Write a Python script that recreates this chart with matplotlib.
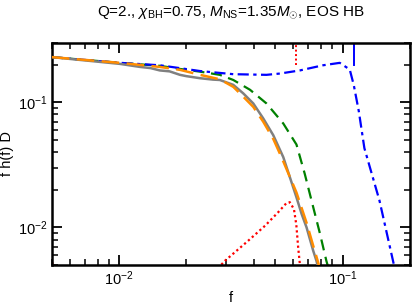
import numpy as np
import matplotlib
matplotlib.use("Agg")
import matplotlib.pyplot as plt

plt.rcParams['font.family'] = ['Liberation Sans', 'DejaVu Sans']
plt.rcParams['mathtext.fontset'] = 'custom'
plt.rcParams['mathtext.rm'] = 'Liberation Sans'
plt.rcParams['mathtext.it'] = 'Liberation Sans:italic'
plt.rcParams['mathtext.bf'] = 'Liberation Sans:bold'

# numerical waveform (gray, with small wiggles)
f_num = [0.005, 0.0101, 0.0124, 0.0138, 0.0152, 0.0168, 0.0187, 0.0200, 0.0230,
         0.0263, 0.0282, 0.0324, 0.0359, 0.0398, 0.0441, 0.0489, 0.0542, 0.0621,
         0.0655, 0.0689, 0.0738, 0.0763, 0.0790]
h_num = [0.23, 0.203, 0.192, 0.188, 0.180, 0.177, 0.166, 0.162, 0.156,
         0.152, 0.151, 0.138, 0.118, 0.098, 0.0744, 0.0546, 0.0365, 0.0174,
         0.0128, 0.0100, 0.0065, 0.0054, 0.0042]

# hybrid model (orange dashed)
f_mod = [0.005, 0.0101, 0.0152, 0.0187, 0.0230, 0.0282, 0.0324, 0.0359, 0.0398,
         0.0441, 0.0489, 0.0532, 0.0621, 0.0690, 0.0740, 0.0775, 0.080]
h_mod = [0.23, 0.207, 0.192, 0.182, 0.166, 0.153, 0.133, 0.111, 0.092,
         0.070, 0.051, 0.0365, 0.019, 0.0108, 0.007, 0.0053, 0.0043]

# green dashed
f_grn = [0.005, 0.0101, 0.0152, 0.0187, 0.0230, 0.0282, 0.0324, 0.0385, 0.0456,
         0.0542, 0.0621, 0.0676, 0.0738, 0.0790, 0.0845, 0.088]
h_grn = [0.23, 0.207, 0.196, 0.185, 0.176, 0.166, 0.151, 0.126, 0.098,
         0.0678, 0.046, 0.0269, 0.0145, 0.0090, 0.0054, 0.0042]

# blue dash-dot
f_blu = [0.005, 0.0101, 0.0152, 0.0230, 0.0324, 0.0456, 0.0524, 0.0643, 0.0817,
         0.0970, 0.1075, 0.112, 0.118, 0.125, 0.146, 0.1695, 0.18]
h_blu = [0.23, 0.207, 0.198, 0.178, 0.168, 0.166, 0.170, 0.180, 0.198,
         0.207, 0.183, 0.138, 0.085, 0.043, 0.0164, 0.005, 0.0035]

# red dotted
f_red = [0.005, 0.0053, 0.020, 0.0297, 0.0377, 0.0449, 0.0514, 0.0561, 0.0580,
         0.0605, 0.0620, 0.0632, 0.0643, 0.066]
h_red = [0.0053, 0.004, 0.0025, 0.0054, 0.0078, 0.0103, 0.0132, 0.0157, 0.0159,
         0.0140, 0.0105, 0.0069, 0.0051, 0.003]

f_mark_red = 0.0621
f_mark_blue = 0.112

fig = plt.figure(figsize=(4.15, 3.05), dpi=100)
ax = fig.add_axes([0.125, 0.131, 0.863, 0.729])

ax.plot(f_num, h_num, color='gray', lw=1.8, zorder=3)
ax.plot(f_mod, h_mod, color='darkorange', lw=1.8, dashes=(7, 3), zorder=4)
ax.plot(f_grn, h_grn, color='green', lw=1.6, dashes=(5, 3), zorder=2)
ax.plot(f_blu, h_blu, color='blue', lw=1.6, dashes=(5, 2, 1.5, 2), zorder=2)
ax.plot(f_red, h_red, color='red', lw=1.6, linestyle=(0, (1, 1.3)), zorder=2)

ax.axvline(f_mark_red, ymin=0.9, ymax=1.0, color='red', lw=1.4, linestyle=(0, (1, 1.3)))
ax.axvline(f_mark_blue, ymin=0.9, ymax=1.0, color='blue', lw=1.4)

ax.set_xscale('log')
ax.set_yscale('log')
ax.set_xlim(0.005, 0.2)
ax.set_ylim(0.005, 0.3)

ax.tick_params(which='both', direction='in', top=True, right=True, labelsize=10.5, pad=3)
ax.tick_params(which='major', length=7, width=1.3)
ax.tick_params(which='minor', length=4, width=1.1)
for s in ax.spines.values():
    s.set_linewidth(1.8)

ax.set_xlabel('f', fontsize=10.5, labelpad=2)
ax.set_ylabel('f h(f) D', fontsize=10.5, labelpad=3)
ax.set_title(r'Q=2., $\chi_{\rm BH}$=0.75, $M_{\rm NS}$=1.35$M_{\odot}$, EOS HB',
             fontsize=11, pad=19)

fig.savefig('out.png', dpi=100)
